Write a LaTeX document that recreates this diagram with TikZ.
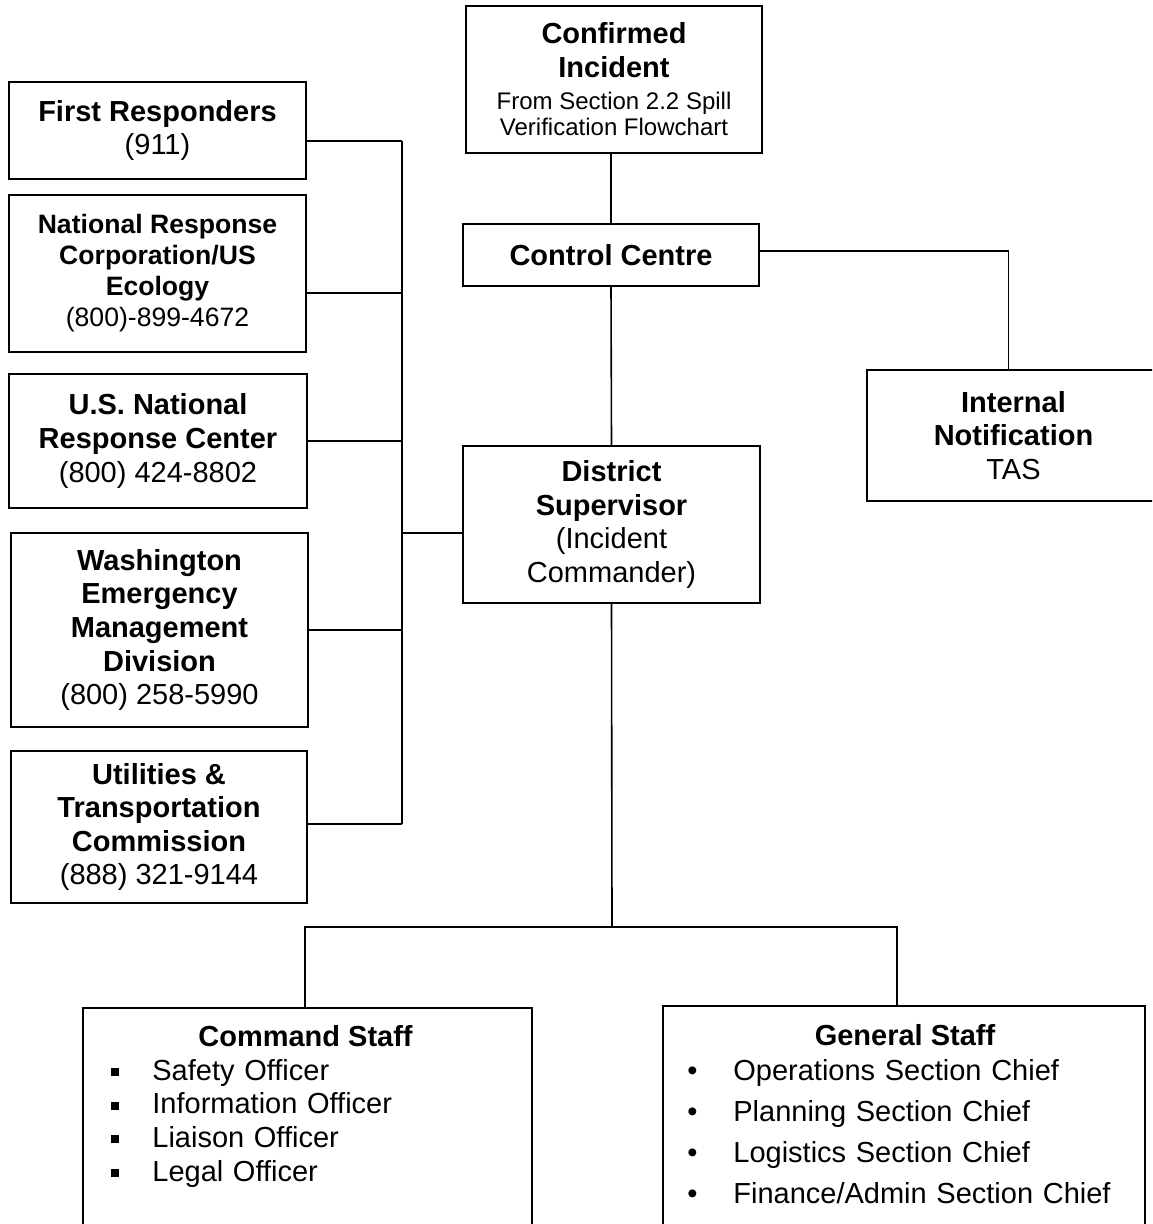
\documentclass[tikz,border=0pt]{standalone}
\usepackage{fontspec}
\setmainfont{Liberation Sans}
\usetikzlibrary{positioning}
\newcommand{\subtext}{\fontsize{12}{13.5}\selectfont}
\newcommand{\sqbul}{\makebox[20.5pt][l]{\rule[2pt]{4pt}{4pt}}}
\newcommand{\dotbul}{\makebox[23pt][l]{\textbullet}}

\begin{document}
\begin{tikzpicture}[x=0.5pt, y=-0.5pt,
    box/.style={rectangle, draw, line width=1pt, align=center, inner sep=0pt,
      font=\fontsize{14.5}{16.8}\selectfont},
    link/.style={line width=0.8pt}]
  \useasboundingbox (0,0) rectangle (1152,1224);
  \clip (0,0) rectangle (1152,1224);
  % centre column
  \node (incident) [box, minimum width=148pt, minimum height=73.5pt] at (614,79.5)
    {\textbf{Confirmed}\\\textbf{Incident}\\[-1pt]\subtext From Section 2.2 Spill\\[-3.5pt]\subtext Verification Flowchart};
  \node (control) [box, minimum width=148pt, minimum height=31pt] at (611,255) {\textbf{Control Centre}};
  \node (district) [box, minimum width=148.5pt, minimum height=78.5pt] at (611.5,524.5)
    {\textbf{District}\\\textbf{Supervisor}\\(Incident\\Commander)};
  \node (notify) [box, minimum width=146.5pt, minimum height=65.5pt] at (1013.5,435.5)
    {\textbf{Internal}\\\textbf{Notification}\\TAS};
  % left column
  \node (first) [box, minimum width=148.5pt, minimum height=48.5pt] at (157.5,130.5)
    {\textbf{First Responders}\\(911)};
  \node (nrc) [box, minimum width=148.5pt, minimum height=78.5pt, font=\fontsize{13.3}{15.5}\selectfont] at (157.5,273.5)
    {\textbf{National Response}\\\textbf{Corporation/US}\\\textbf{Ecology}\\(800)-899-4672};
  \node (usnrc) [box, minimum width=149pt, minimum height=67pt] at (158,441)
    {\textbf{U.S. National}\\\textbf{Response Center}\\(800) 424-8802};
  \node (wash) [box, minimum width=148.5pt, minimum height=97pt] at (159.5,630)
    {\textbf{Washington}\\\textbf{Emergency}\\\textbf{Management}\\\textbf{Division}\\(800) 258-5990};
  \node (utc) [box, minimum width=148pt, minimum height=76pt] at (159,827)
    {\textbf{Utilities \&}\\\textbf{Transportation}\\\textbf{Commission}\\(888) 321-9144};
  % staff boxes
  \node (cmd) [box, anchor=north, minimum width=224.5pt, minimum height=120pt] at (307.5,1007) {};
  \node (gen) [box, anchor=north, minimum width=241pt, minimum height=120pt] at (904,1005) {};
  \node (cmdhead) [anchor=base, inner sep=0pt, font=\fontsize{14.5}{16.8}\selectfont\bfseries] at (305.5,1046) {Command Staff};
  \node (genhead) [anchor=base, inner sep=0pt, font=\fontsize{14.5}{16.8}\selectfont\bfseries] at (905,1045) {General Staff};
  \node (cmdlist) [anchor=base west, inner sep=0pt, text width=200pt, align=left,
    font=\fontsize{14.5}{16.85}\selectfont] at (111,1080)
    {\sqbul Safety Officer\\\sqbul Information Officer\\\sqbul Liaison Officer\\\sqbul Legal Officer};
  \node (genlist) [anchor=base west, inner sep=0pt, text width=220pt, align=left,
    font=\fontsize{14.5}{20.5}\selectfont] at (687,1080)
    {\dotbul Operations Section Chief\\\dotbul Planning Section Chief\\\dotbul Logistics Section Chief\\\dotbul Finance/Admin Section Chief};

  \coordinate (bustop) at (402,141);
  \coordinate (busend) at (402,824);
  \coordinate (split) at (612,927);
  \draw [link] (incident.south -| control.north) -- (control.north);
  \draw [link] (control.south) -- (district.north);
  \draw [link] ([yshift=2pt]control.east) -| ([xshift=-2.5pt]notify.north);
  \draw [link] (bustop) -- (busend);
  \draw [link] ([yshift=-5.25pt]first.east) -- (bustop);
  \draw [link] ([yshift=-9.75pt]nrc.east) -- ([yshift=-9.75pt]nrc.east -| bustop);
  \draw [link] (usnrc.east) -- (usnrc.east -| bustop);
  \draw [link] (wash.east) -- (wash.east -| bustop);
  \draw [link] (utc.east |- busend) -- (busend);
  \draw [link] ([yshift=-4.25pt]district.west) -- ([yshift=-4.25pt]district.west -| bustop);
  \draw [link] (district.south) -- (split);
  \draw [link] ([xshift=-1.25pt]cmd.north) |- (split) -| ([xshift=-3.5pt]gen.north);
\end{tikzpicture}
\end{document}
